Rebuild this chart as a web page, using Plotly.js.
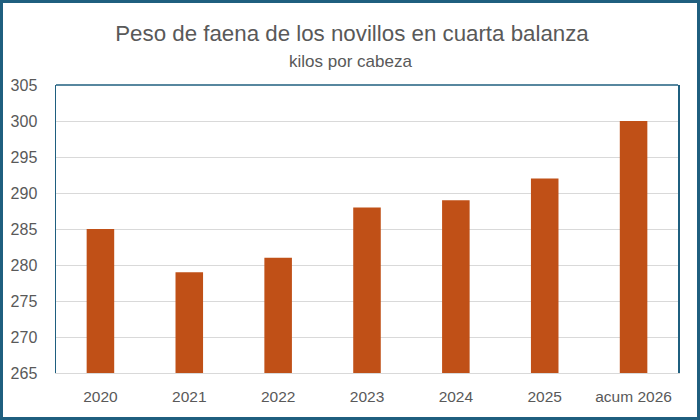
<!DOCTYPE html>
<html>
<head>
<meta charset="utf-8">
<script src="https://cdn.plot.ly/plotly-3.0.1.min.js"></script>
<style>
  html, body { margin: 0; padding: 0; background: #fff; }
  #wrap { position: relative; width: 700px; height: 420px; }
  #chart { position: absolute; left: 0; top: 0; width: 700px; height: 420px; }
  #frame { position: absolute; left: 0; top: 0; width: 700px; height: 420px; box-sizing: border-box;
           border: 3px solid #1F5F7F; pointer-events: none; }
</style>
</head>
<body>
<div id="wrap"><div id="chart"></div><div id="frame"></div></div>
<script>
const categories = ["2020", "2021", "2022", "2023", "2024", "2025", "acum 2026"];
const pesoKg = [285, 279, 281, 288, 289, 292, 300];
const yTicks = [265, 270, 275, 280, 285, 290, 295, 300, 305];
const titleText = "Peso de faena de los novillos en cuarta balanza";
const subtitleText = "kilos por cabeza";

const font = "Liberation Sans, Arial, sans-serif";
const grey = "#595959";
const teal = "#1F5F7F";

const trace = {
  type: "bar",
  x: categories,
  y: pesoKg.map(v => v - yTicks[0]),
  base: yTicks[0],
  marker: { color: "#C05017" },
  width: 0.31,
  hoverinfo: "skip"
};

const layout = {
  width: 700, height: 420,
  margin: { l: 56, r: 22, t: 85, b: 47 },
  paper_bgcolor: "#fff", plot_bgcolor: "#fff",
  showlegend: false,
  font: { family: font, color: grey },
  title: {
    text: titleText,
    font: { family: font, size: 22.3, color: grey },
    xref: "container", x: 352 / 700, xanchor: "center",
    yref: "container", y: 1 - 33 / 420, yanchor: "middle"
  },
  annotations: [{
    text: subtitleText, xref: "paper", yref: "paper",
    x: (350 - 56) / 622, y: (373 - 61) / 288,
    xanchor: "center", yanchor: "middle", showarrow: false,
    font: { family: font, size: 17, color: grey }
  }],
  xaxis: {
    type: "category",
    showgrid: false,
    showline: true, linecolor: "#D9D9D9", linewidth: 1,
    ticks: "", tickfont: { family: font, size: 15.5, color: grey },
    ticklabelstandoff: 9,
    fixedrange: true
  },
  yaxis: {
    range: [yTicks[0], yTicks[yTicks.length - 1]],
    tickvals: yTicks,
    ticktext: yTicks.map(String),
    showgrid: true, gridcolor: "#D9D9D9", gridwidth: 1,
    zeroline: false,
    showline: true, linecolor: teal, linewidth: 1.5, mirror: true,
    ticks: "", tickfont: { family: font, size: 16, color: grey },
    ticklabelstandoff: 14,
    fixedrange: true
  },
  shapes: [{
    type: "line", xref: "paper", yref: "paper",
    x0: 0, x1: 1, y0: 1, y1: 1,
    line: { color: teal, width: 1.5 }, layer: "above"
  }]
};

Plotly.newPlot("chart", [trace], layout, { displayModeBar: false, staticPlot: true });
</script>
</body>
</html>
